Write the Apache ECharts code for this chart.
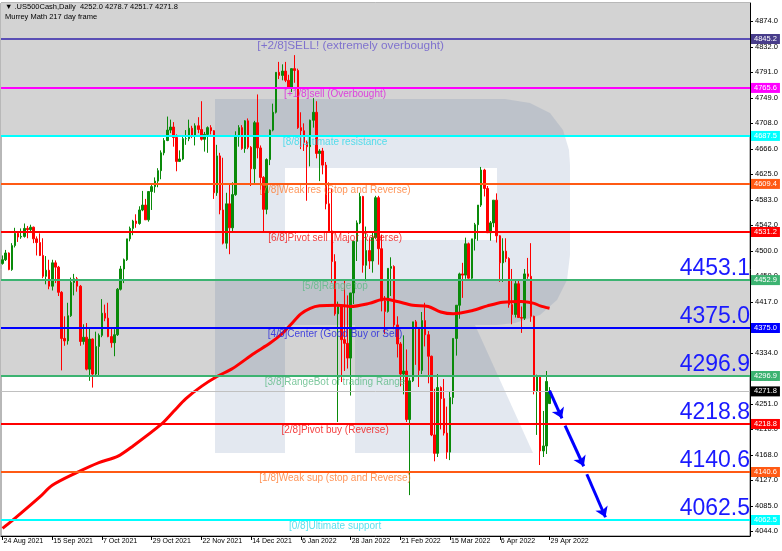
<!DOCTYPE html>
<html><head><meta charset="utf-8">
<script src="https://cdn.jsdelivr.net/npm/echarts/dist/echarts.min.js"></script>
<style>html,body{margin:0;padding:0;background:#fff}#c{width:782px;height:551px}</style>
</head><body><div id="c"></div>
<script>
// ---------------- data ----------------
const firstDay = '2021-08-24';
const skippedDays = ['2021-12-24', '2022-04-15'];
const futureSlots = 64;
const xTickLabels = ['24 Aug 2021','15 Sep 2021','7 Oct 2021','29 Oct 2021','22 Nov 2021','14 Dec 2021','6 Jan 2022','28 Jan 2022','21 Feb 2022','15 Mar 2022','6 Apr 2022','29 Apr 2022'];

// [open, high, low, close]
const ohlc = [
[4480,4493,4478,4486],[4486,4502,4484,4497],[4497,4498,4469,4470],[4470,4513,4468,4509],[4509,4538,4506,4529],
[4529,4532,4515,4523],[4523,4537,4520,4524],[4524,4545,4522,4537],[4537,4541,4521,4535],[4535,4543,4530,4539],
[4539,4540,4513,4520],[4520,4524,4493,4514],[4514,4529,4492,4493],[4493,4521,4456,4459],[4459,4492,4446,4469],
[4469,4486,4438,4443],[4443,4486,4436,4481],[4481,4485,4448,4474],[4474,4476,4427,4433],[4433,4435,4306,4358],
[4358,4394,4346,4354],[4354,4416,4348,4395],[4395,4457,4393,4449],[4449,4463,4428,4455],[4455,4458,4434,4443],
[4443,4445,4346,4353],[4353,4381,4348,4360],[4360,4383,4306,4308],[4308,4375,4289,4357],[4357,4358,4278,4300],
[4300,4369,4297,4345],[4345,4366,4296,4363],[4363,4422,4360,4399],[4399,4413,4386,4391],[4391,4416,4360,4361],
[4361,4375,4343,4351],[4351,4373,4329,4364],[4364,4440,4362,4438],[4438,4476,4436,4471],[4471,4488,4448,4486],
[4486,4520,4484,4520],[4520,4540,4516,4537],[4537,4551,4526,4549],[4549,4560,4538,4545],[4545,4573,4543,4567],
[4567,4598,4565,4575],[4575,4585,4551,4551],[4551,4597,4548,4597],[4597,4608,4567,4605],[4605,4620,4595,4614],
[4614,4635,4604,4631],[4631,4664,4617,4660],[4660,4684,4656,4680],[4680,4719,4679,4697],[4697,4714,4692,4702],
[4702,4710,4670,4685],[4685,4690,4630,4646],[4646,4664,4645,4650],[4650,4688,4648,4683],[4683,4697,4673,4683],
[4683,4714,4679,4700],[4700,4704,4684,4689],[4689,4708,4672,4704],[4704,4718,4692,4698],[4698,4744,4680,4682],
[4682,4694,4662,4690],[4690,4703,4660,4701],[4701,4705,4690,4696],[4696,4697,4585,4595],[4595,4673,4590,4655],
[4655,4660,4560,4567],[4567,4652,4511,4513],[4513,4595,4504,4577],[4577,4608,4495,4538],[4538,4612,4531,4592],
[4592,4695,4590,4686],[4686,4705,4670,4701],[4701,4705,4665,4667],[4667,4713,4660,4712],[4712,4716,4666,4669],
[4669,4671,4606,4634],[4634,4712,4611,4709],[4709,4755,4651,4668],[4668,4672,4600,4620],[4620,4622,4531,4568],
[4568,4651,4560,4649],[4649,4698,4640,4697],[4697,4740,4695,4726],[4726,4791,4724,4791],[4791,4808,4780,4786],
[4786,4804,4778,4793],[4793,4808,4775,4778],[4778,4787,4764,4766],[4766,4797,4759,4797],[4797,4819,4774,4794],
[4794,4797,4699,4701],[4701,4726,4666,4696],[4696,4708,4663,4677],[4677,4680,4582,4670],[4670,4714,4638,4713],
[4713,4749,4701,4726],[4726,4744,4651,4659],[4659,4666,4614,4663],[4663,4668,4625,4640],[4640,4645,4568,4577],
[4577,4612,4530,4533],[4533,4602,4449,4483],[4483,4495,4395,4398],[4398,4418,4222,4410],[4410,4411,4287,4356],
[4356,4453,4305,4350],[4350,4428,4309,4326],[4326,4432,4265,4432],[4432,4516,4414,4516],[4516,4550,4484,4546],
[4546,4595,4544,4589],[4589,4590,4465,4477],[4477,4540,4451,4501],[4501,4521,4471,4484],[4484,4530,4465,4522],
[4522,4590,4520,4587],[4587,4590,4478,4504],[4504,4527,4402,4419],[4419,4427,4365,4402],[4402,4472,4400,4472],
[4472,4490,4427,4475],[4475,4477,4373,4380],[4380,4394,4327,4349],[4349,4352,4280,4300],[4300,4363,4267,4305],
[4305,4340,4222,4226],[4226,4294,4103,4289],[4289,4385,4287,4385],[4385,4388,4315,4374],[4374,4375,4279,4306],
[4306,4401,4300,4387],[4387,4416,4345,4364],[4364,4370,4285,4329],[4329,4330,4199,4201],[4201,4276,4158,4171],
[4171,4300,4165,4278],[4278,4280,4210,4260],[4260,4292,4200,4204],[4204,4247,4162,4173],[4173,4271,4160,4262],
[4262,4358,4251,4358],[4358,4412,4330,4412],[4412,4465,4390,4463],[4463,4481,4424,4461],[4461,4522,4455,4512],
[4512,4514,4455,4456],[4456,4520,4452,4520],[4520,4546,4501,4543],[4543,4575,4517,4575],[4575,4637,4572,4632],
[4632,4634,4589,4602],[4602,4606,4530,4530],[4530,4549,4517,4546],[4546,4583,4539,4583],[4583,4594,4514,4525],
[4525,4526,4450,4481],[4481,4521,4450,4500],[4500,4521,4482,4488],[4488,4490,4408,4413],[4413,4471,4381,4397],
[4397,4453,4392,4447],[4447,4453,4392,4392],[4392,4410,4367,4391],[4391,4471,4388,4463],[4463,4489,4455,4459],
[4459,4513,4385,4394],[4394,4395,4267,4272],[4272,4299,4201,4296],[4296,4298,4152,4175],[4175,4240,4165,4183],
[4183,4305,4170,4288],[4252.0,4278.7,4251.7,4271.8]
];

// 217-day moving average, read at selected bars
const maAt     = [0,3,12,16,24,31,37,42,51,55,59,64,69,74,81,86,90,93,96,99,102,108,112,118,123,127,132,137,141,145,151,156,161,167,171,173,176];
const maValues = [4049,4061,4100,4119,4140,4156,4166,4183,4218,4239,4260,4280,4296,4309,4334,4350,4366,4382,4398,4407,4411,4412,4410,4415,4422,4418,4412,4410,4401,4398,4403,4411,4417,4418,4415,4411,4407];

// Murrey Math levels
const levelValues = [4845.2,4765.6,4687.5,4609.4,4531.2,4452.9,4375.0,4296.9,4218.8,4140.6,4062.5];
const levelNames = ['[+2/8]SELL! (extremely overbought)','[+1/8]sell (Overbought)','[8/8]Ultimate resistance','[7/8]Weak res (Stop and Reverse)','[6/8]Pivot sell (Major Reverse)','[5/8]Range top','[4/8]Center (Good Buy or Sell)','[3/8]RangeBot of trading Range','[2/8]Pivot buy (Reverse)','[1/8]Weak sup (stop and Reverse)','[0/8]Ultimate support'];
const levelTextAt = [112,107,107,107,107,107,107,107,107,107,107];
const bigLevelLabels = ['','','','','','4453.1','4375.0','4296.9','4218.8','4140.6','4062.5'];
const grayZones = [[4687.5, 4903.8],[4296.9, 4452.9]];
const lastPrice = 4271.8;
const headerLine1 = '\u25BC .US500Cash,Daily  4252.0 4278.7 4251.7 4271.8';
const headerLine2 = 'Murrey Math 217 day frame';

// forecast arrows: [barIndexFrom, priceFrom, barIndexTo, priceTo]
const arrows = [[176,4273,180,4228],[181,4216,187,4150],[188,4137,194,4067]];

const yTickValues = [4044.0,4085.0,4127.0,4168.0,4210.0,4251.0,4292.0,4334.0,4375.0,4417.0,4459.0,4500.0,4542.0,4583.0,4625.0,4666.0,4708.0,4749.0,4791.0,4832.0,4874.0];
const yMin = 4036.5, yMax = 4903.8;

// ---------------- styles ----------------
const levelLineColors = ['#5a4fb5','#ff00ff','#00ffff','#ff5a14','#ff0000','#3cb371','#0000ff','#3cb371','#ff0000','#ff5a14','#00ffff'];
const levelTagColors  = ['#483d8b','#ff00ff','#00ffff','#ff5a14','#ff0000','#3cb371','#0000ff','#3cb371','#ff0000','#ff5a14','#00ffff'];
const levelTextColors = ['#6a5acd','#e020e0','#30d8e8','#ff7a30','#f01010','#5cba84','#2020e0','#5cba84','#f01010','#ff7a30','#30d8e8'];
const levelTextSizes  = [11.8,10,10,10,10,10,10,10,10,10,10];
const FONT = 'Liberation Sans, Arial, sans-serif';
const WM = 'rgba(68,102,155,0.15)';
// watermark "R" pieces (decoration, pixel space)
const watermarkPolys = [
  [[215,99],[285,99],[285,453],[215,453]],
  [[285,99],[497,99],[497,168],[285,168]],
  [[285,240],[497,240],[497,325],[285,325]],
  [[497,99],[505,99],[530,103],[550,113],[563,130],[569,150],[570,165],[570,255],[567,280],[557,300],[540,315],[515,323],[497,325]],
  [[355,325],[475,325],[533,453],[355,453]]
];

// ---------------- build ----------------
const MONTHS = ['Jan','Feb','Mar','Apr','May','Jun','Jul','Aug','Sep','Oct','Nov','Dec'];
function buildDates() {
  const out = [];
  const d = new Date(firstDay + 'T00:00:00Z');
  const total = ohlc.length + futureSlots;
  while (out.length < total) {
    const iso = d.toISOString().slice(0, 10);
    const wd = d.getUTCDay();
    if (wd !== 0 && wd !== 6 && skippedDays.indexOf(iso) < 0) out.push(iso);
    d.setUTCDate(d.getUTCDate() + 1);
  }
  return out;
}
const dates = buildDates();
function fmtDate(iso) {
  const p = iso.split('-');
  return (+p[2]) + ' ' + MONTHS[+p[1] - 1] + ' ' + p[0];
}
const tickIdx = {};
dates.forEach((d, i) => { if (i < ohlc.length && xTickLabels.indexOf(fmtDate(d)) >= 0) tickIdx[i] = true; });

const candleData = ohlc.map(r => [r[0], r[3], r[2], r[1]]);
const maData = maAt.map((x, k) => [x, maValues[k]]);

const levelLines = levelValues.map((v, k) => ({
  yAxis: v,
  lineStyle: { color: levelLineColors[k], width: 2, type: 'solid' },
  label: {
    show: true, position: 'end', distance: 1, formatter: v.toFixed(1),
    backgroundColor: levelTagColors[k], color: '#fff', fontSize: 7.5, fontFamily: FONT,
    padding: [1, 3, 1, 3]
  }
}));
levelLines.push({
  yAxis: lastPrice,
  lineStyle: { color: '#c0c0c0', width: 1, type: 'solid' },
  label: { show: true, position: 'end', distance: 1, formatter: lastPrice.toFixed(1),
    backgroundColor: '#000', color: '#fff', fontSize: 7.5, fontFamily: FONT, padding: [1, 3, 1, 3] }
});
const bigLabelLines = [];
bigLevelLabels.forEach((t, k) => {
  if (!t) return;
  bigLabelLines.push({
    yAxis: levelValues[k],
    lineStyle: { color: 'rgba(0,0,0,0)', width: 1 },
    label: { show: true, position: 'insideEndTop', distance: 0, formatter: t,
      color: '#1a1aff', fontSize: 23, fontFamily: FONT }
  });
});

const areaData = grayZones.map(z => [{ yAxis: z[0] }, { yAxis: z[1] }]);
const arrowData = arrows.map(a => [{ coord: [a[0], a[1]] }, { coord: [a[2], a[3]] }]);

const graphics = watermarkPolys.map(pts => ({
  type: 'polygon', shape: { points: pts }, style: { fill: WM }, z: 2, silent: true
}));
graphics.push({ type: 'text', left: 5, top: 3, style: { text: headerLine1, fill: '#000', font: '7.5px ' + FONT }, z: 10 });
graphics.push({ type: 'text', left: 5, top: 13, style: { text: headerLine2, fill: '#000', font: '7.5px ' + FONT }, z: 10 });

const chart = echarts.init(document.getElementById('c'), null, { renderer: 'canvas' });
chart.setOption({
  animation: false,
  backgroundColor: '#fff',
  textStyle: { fontFamily: FONT },
  grid: { left: 1, right: 32, top: 3, bottom: 15, show: true, borderColor: '#707070', borderWidth: 1, backgroundColor: 'transparent' },
  graphic: graphics,
  xAxis: {
    type: 'category', data: dates, boundaryGap: true,
    axisLine: { show: true, lineStyle: { color: '#000', width: 1 } },
    axisTick: { show: true, alignWithLabel: true, length: 4, interval: (i) => !!tickIdx[i], lineStyle: { color: '#000' } },
    axisLabel: { show: true, interval: (i) => !!tickIdx[i], formatter: (v) => fmtDate(v), align: 'left', margin: 2,
      color: '#000', fontSize: 7, fontFamily: FONT, padding: [0, 0, 0, 1] },
    splitLine: { show: false }
  },
  yAxis: {
    type: 'value', position: 'right', min: yMin, max: yMax, scale: true,
    axisLine: { show: true, lineStyle: { color: '#000', width: 1 } },
    axisTick: { show: true, length: 3, customValues: yTickValues, lineStyle: { color: '#000' } },
    axisLabel: { show: true, customValues: yTickValues, formatter: (v) => v.toFixed(1), margin: 5,
      color: '#000', fontSize: 7.5, fontFamily: FONT },
    splitLine: { show: false }
  },
  series: [
    {
      type: 'line', data: [], silent: true, z: 1,
      markArea: { silent: true, itemStyle: { color: '#d3d3d3', opacity: 1 }, data: areaData }
    },
    {
      type: 'candlestick', data: candleData, barWidth: 2, z: 3, silent: true,
      itemStyle: { color: '#0a8a0a', color0: '#ff0000', borderColor: '#0a8a0a', borderColor0: '#ff0000', borderWidth: 1 }
    },
    {
      type: 'line', data: maData, smooth: 0.3, showSymbol: false, z: 4, silent: true,
      lineStyle: { color: '#ff0000', width: 3 }
    },
    {
      type: 'line', data: [], z: 5, silent: true,
      markLine: { silent: true, symbol: 'none', animation: false, data: levelLines.concat(bigLabelLines) }
    },
    {
      type: 'line', data: [], z: 6, silent: true,
      markLine: { silent: true, symbol: ['none', 'arrow'], symbolSize: 10, animation: false,
        itemStyle: { color: '#0000ff' },
        lineStyle: { color: '#0000ff', width: 3, type: 'solid' }, label: { show: false }, data: arrowData }
    },
    {
      type: 'scatter', z: 7, silent: true, symbolSize: 0,
      data: levelValues.map((v, k) => ({ value: [levelTextAt[k], v], label: { color: levelTextColors[k], fontSize: levelTextSizes[k] } })),
      label: { show: true, position: 'bottom', distance: 1, fontSize: 10, fontFamily: FONT,
        formatter: (p) => levelNames[p.dataIndex] }
    }
  ]
});
</script>
</body></html>
